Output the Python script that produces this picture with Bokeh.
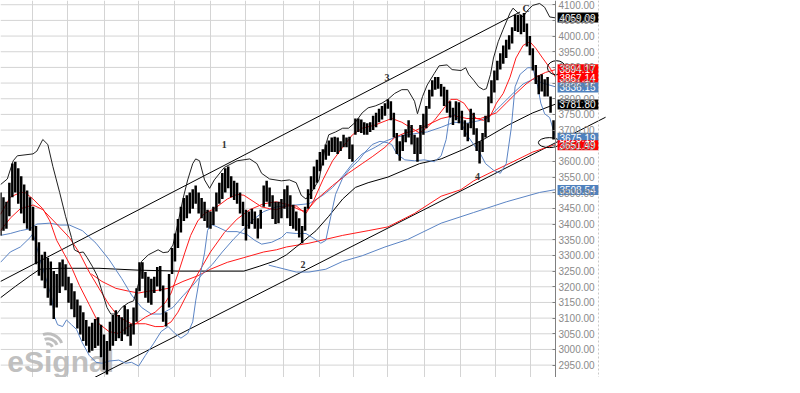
from bokeh.plotting import figure
from bokeh.models import Range1d, FixedTicker, NumeralTickFormatter, Grid, Span
from bokeh.core.properties import value
from bokeh.embed import file_html
from bokeh.resources import INLINE

# ---------------- data (trading-day index, price) ----------------
bar_highs = [3501,3486,3471,3532,3593,3599,3578,3553,3526,3507,
             3486,3455,3394,3342,3302,3312,3293,3281,3250,3241,
             3278,3287,3272,3232,3211,3186,3159,3140,3119,3094,
             3073,3085,3097,3103,3079,3048,3027,3088,3110,3125,
             3110,3103,3140,3128,3082,3134,3195,3278,3278,3247,
             3232,3226,3232,3263,3266,3204,3119,3241,3324,3370,
             3416,3455,3483,3492,3501,3511,3523,3501,3483,3471,
             3446,3440,3455,3501,3532,3563,3578,3584,3553,3538,
             3532,3501,3471,3446,3440,3449,3440,3419,3446,3523,
             3538,3517,3492,3471,3471,3480,3511,3523,3492,3462,
             3440,3419,3394,3455,3511,3553,3584,3605,3630,3639,
             3654,3667,3676,3679,3676,3664,3685,3676,3679,3654,
             3737,3737,3734,3725,3722,3725,3746,3755,3768,3777,
             3786,3798,3792,3755,3691,3664,3685,3703,3731,3716,
             3685,3676,3716,3752,3777,3829,3859,3869,3869,3847,
             3838,3829,3792,3771,3792,3789,3762,3731,3722,3768,
             3755,3706,3664,3691,3746,3807,3859,3890,3921,3945,
             3970,3988,4003,4028,4068,4068,4068,4074,4040,4000,
             3961,3908,3875,3878,3862,3869,3807,3731]
bar_lows = [3364,3379,3385,3425,3486,3501,3465,3434,3403,3385,
            3379,3348,3272,3235,3220,3195,3165,3140,3097,3134,
            3180,3201,3189,3149,3128,3103,3067,3048,3027,3012,
            2990,2996,3005,3012,2975,2935,2920,2996,3012,3027,
            3036,3027,3048,3042,3012,3048,3088,3186,3226,3165,
            3149,3143,3180,3201,3186,3088,3073,3134,3241,3281,
            3324,3373,3410,3419,3434,3449,3465,3434,3419,3410,
            3388,3385,3397,3440,3465,3480,3501,3514,3486,3477,
            3465,3434,3394,3348,3385,3400,3385,3354,3385,3455,
            3471,3455,3416,3400,3403,3419,3449,3419,3394,3385,
            3379,3357,3339,3379,3449,3480,3511,3532,3569,3587,
            3605,3618,3630,3630,3624,3633,3645,3645,3608,3599,
            3685,3694,3691,3685,3685,3694,3700,3709,3725,3734,
            3746,3768,3731,3676,3624,3602,3633,3661,3676,3654,
            3624,3599,3624,3685,3706,3768,3807,3829,3832,3807,
            3777,3755,3740,3716,3731,3722,3700,3679,3664,3706,
            3685,3633,3593,3630,3676,3725,3786,3820,3859,3893,
            3912,3930,3957,3976,4016,4013,4006,4013,3967,3939,
            3890,3847,3814,3823,3807,3807,3755,3670]
bar_days = list(range(len(bar_highs)))

# black upper band
upper_days = [0,2.3,4.3,5.7,11,12.3,14.3,16,17.7,20,22,24,25,26.7,28,29.3,31,32.7,34.3,36,37.3,39.3,41,43.3,45,
              46.7,47.7,50,53.3,55,56.7,58.3,60,61.7,63.3,65,66,67.3,69,70.7,72.3,75.7,80,84.3,86.7,88.3,91,95,
              97.7,100,101.7,103.3,105.7,107.7,110,111,113.3,115.7,117.7,120,122.3,124.3,126.7,129,131,133.3,
              135.7,137.7,140,141,142.7,144.3,146.7,148.3,151,152.7,155.7,157.3,158.3,160,161.7,163.3,164.3,
              165.7,166.7,168.3,170,172.3,173.3,175,176.7,178.3,180,182.3,184,185.7,187.7]
upper_vals = [3526,3544,3602,3618,3624,3633,3670,3654,3584,3501,3425,3357,3318,3309,3311,3293,3266,3235,3186,3134,
              3113,3113,3134,3149,3155,3211,3281,3302,3318,3309,3311,3333,3403,3480,3541,3593,3608,3602,3541,
              3514,3541,3581,3602,3608,3593,3562,3544,3538,3541,3532,3492,3480,3510,3541,3654,3685,3694,3706,
              3706,3725,3755,3771,3777,3786,3798,3817,3829,3829,3792,3752,3807,3844,3881,3905,3908,3893,3890,
              3899,3878,3859,3838,3829,3832,3878,3930,3982,4022,4074,4089,4074,4061,4083,4098,4104,4092,4061,4058]

# blue lower band
lower_days = [0,3.3,6.7,10,11,12.3,13.3,15.7,17.3,18.3,19.3,21,22.3,24,25.7,27.7,30,32.3,34.3,36.7,40,42.3,44.3,
              46.7,49,51.7,54.3,56.7,59,61,63.3,65,66,67.3,69,70,71,73.3,76.7,80,83.3,86,88.3,91.7,95,96.7,100,
              103.3,106,108.3,110,111.7,113.3,115.7,118.3,121,123.3,125.7,128.3,130.7,132.3,134,136.7,140,143.3,
              146.7,149,150.7,151.7,153.3,155.7,157.7,160,162.3,164,166.7,169,171,172.7,174,175.7,178.3,180,
              181.7,182.7,184,185.7,187.7]
lower_vals = [3278,3311,3327,3357,3370,3327,3287,3217,3165,3103,3079,3073,3094,3079,3064,3021,2981,2959,2956,2963,
              2966,2956,2959,2947,2981,3018,3057,3073,3051,3036,3051,3088,3155,3226,3308,3379,3400,3391,3376,
              3376,3367,3348,3336,3342,3357,3373,3370,3370,3354,3339,3348,3425,3495,3547,3578,3602,3630,3654,
              3664,3660,3654,3624,3605,3602,3605,3599,3618,3670,3737,3752,3725,3685,3654,3624,3593,3572,3562,
              3593,3706,3838,3878,3899,3899,3838,3786,3752,3740,3676]

# fast red average
red_fast_days = [0,3.3,6.7,8.3,11,14.3,16.7,19,21.7,24.3,26.7,30,33.3,36.7,40,43.3,45.7,49,52.3,55.7,57.7,60,62.3,
                 64.3,66.7,69,72.3,76.7,80,82.3,85.7,88.3,91,93.3,96.7,100,102.3,103.3,105.7,109,112.3,115.7,119,
                 122.3,126.7,129,132.3,135.7,139,141.7,144,146.7,150,152.3,154.3,156.7,159,161,163.3,165.7,167.7,
                 170,172.3,174.3,176.7,179,181,183.3,185.7,187.7]
red_fast_vals = [3431,3486,3501,3501,3480,3449,3410,3348,3302,3256,3204,3143,3082,3057,3051,3073,3082,3103,3119,
                 3149,3180,3241,3308,3364,3410,3434,3449,3480,3495,3492,3471,3455,3449,3446,3458,3458,3440,3434,
                 3471,3541,3602,3645,3685,3706,3716,3725,3737,3725,3706,3691,3706,3731,3771,3798,3798,3786,3755,
                 3737,3731,3746,3786,3817,3869,3930,3970,3982,3961,3930,3899,3869]

# medium red average
red_mid_days = [0,3.3,6.7,11,14.3,19,23.3,26.7,30,33.3,36.7,40,44.3,49,52.3,55,57.7,60,63.3,66.7,71,75.7,80,84.3,
                89,93.3,97.7,101,103.3,106.7,112.3,117.7,122.3,125.7,130,133.3,136.7,140,144.3,149,153.3,157.7,
                162.3,167.7,171,174.3,177.7,181,184.3,187.7]
red_mid_vals = [3379,3419,3449,3461,3446,3400,3357,3308,3247,3195,3143,3103,3082,3082,3073,3073,3088,3119,3180,
                3241,3311,3373,3416,3446,3465,3471,3461,3446,3440,3477,3523,3563,3593,3615,3645,3676,3691,3697,
                3716,3737,3746,3737,3737,3755,3786,3817,3847,3869,3884,3893]

# medium blue average
blue_mid_days = [0,3.3,6.7,10,12.3,16.7,20,23.3,27.7,32.3,36.7,41,44.3,47.7,51,54.3,58.3,61.7,65,68.3,71.7,75,79,
                 82.3,85.7,89,93.3,100,104.3,109,112.3,115.7,119,122.3,126.7,130,133.3,137.7,141.7,144.3,149,
                 153.3,157.7,162.3,165.7,169,173.3,176.7,180,183.3,187.7]
blue_mid_vals = [3364,3370,3379,3385,3400,3403,3397,3397,3379,3339,3287,3226,3174,3134,3113,3113,3134,3171,3204,
                 3241,3272,3311,3354,3385,3416,3440,3455,3461,3465,3492,3517,3553,3593,3624,3645,3664,3676,3685,
                 3691,3694,3709,3725,3722,3731,3746,3777,3817,3847,3862,3850,3838]

# black average
black_ma_days = [0,5,10,13.3,20,33.3,46.7,60,82.3,87.7,93.3,96.7,100,106.7,111,115.7,120,124.3,131,141.7,149,
                 156.7,163.3,171.7,180,187.7]
black_ma_vals = [3165,3201,3235,3256,3259,3259,3253,3250,3250,3266,3284,3302,3327,3379,3425,3480,3517,3532,3550,
                 3593,3608,3639,3670,3716,3755,3783]

# long red average
red_long_days = [30.7,34.3,39,43.3,46.7,50,53.3,56.7,61.7,66.7,71,76.7,82.3,89,93.3,96.7,104.3,115.7,124.3,131,
                 140,149,155.7,160,166.7,173.3,180,187.7]
red_long_vals = [3241,3217,3195,3186,3180,3186,3189,3195,3217,3235,3256,3278,3293,3311,3318,3327,3339,3364,3379,
                 3391,3434,3489,3510,3538,3569,3599,3630,3654]

# long blue average
blue_long_days = [90.7,93.3,100,104.3,110,115.7,122.3,130,137.7,149,160,171,182.3,187.7]
blue_long_vals = [3269,3263,3247,3247,3256,3281,3299,3327,3351,3403,3437,3471,3501,3510]

# trend channel lines (start/end)
chan_upper_days = [0, 175.7]
chan_upper_vals = [3217, 4077]
chan_lower_days = [31.7, 204.6]
chan_lower_vals = [2910, 3741]

# wave labels
wave_text = ["1", "2", "3", "4", "C"]
wave_days = [75.7, 102.3, 130.7, 161.3, 177.7]
wave_vals = [3654, 3272, 3869, 3553, 4089]

# circled spots
circle_days = [188.0, 185.6]
circle_vals = [3899, 3660]

# last-value tags on the price scale
tag_vals = [4059.09, 3894.17, 3867.14, 3836.15, 3781.80, 3675.19, 3651.49, 3508.54]
tag_colors = ["#000000", "#ff0000", "#ff0000", "#4f81bd", "#000000", "#4f81bd", "#ff0000", "#4f81bd"]
tag_texts = [f"{v:.2f}" for v in tag_vals]

# grid / ticks / scale positions (in trading days)
month_days = [10.7, 22.7, 35, 46.7, 59, 71, 82.7, 95.7, 107.7, 119.3, 131, 143.3, 155.7, 167.3, 179.3]
price_ticks = [2950, 3000, 3050, 3100, 3150, 3200, 3250, 3300, 3350, 3400, 3450, 3500,
               3550, 3600, 3650, 3700, 3750, 3800, 3850, 3900, 3950, 4000, 4050, 4100]
axis_day = 187.67        # where the price scale sits
tag_text_day = 189.0     # tag text start
tag_box_day = 195.3      # tag box centre
scale_edge_day = 202.2   # dotted edge of the price scale

# ---------------- figure ----------------
RED = "#ff1a1a"
BLUE = "#5b84c4"
GRID = "#d4d4d4"

p = figure(frame_width=700, frame_height=377, output_backend="svg", toolbar_location=None,
           x_range=Range1d(0, 236.7), y_range=Range1d(2910.5, 4113.5),
           x_axis_location=None, y_axis_location="right",
           min_border_left=0, min_border_top=0, min_border_bottom=0, min_border_right=0)
p.outline_line_color = None
p.background_fill_color = "white"
p.border_fill_color = "white"

p.xgrid.visible = False
p.ygrid.visible = False
p.add_layout(Grid(dimension=0, ticker=FixedTicker(ticks=month_days),
                  grid_line_color=GRID, grid_line_width=1))
p.segment(x0=[0] * len(price_ticks), y0=price_ticks, x1=[axis_day] * len(price_ticks), y1=price_ticks,
          line_color=GRID, line_width=1)
p.add_layout(Span(location=scale_edge_day, dimension="height", line_color="#c8c8c8",
                  line_dash="2 2", line_width=1))

p.yaxis.fixed_location = axis_day
p.yaxis.ticker = FixedTicker(ticks=price_ticks)
p.yaxis.formatter = NumeralTickFormatter(format="0.00")
p.yaxis.axis_line_color = "#808080"
p.yaxis.major_tick_line_color = "#808080"
p.yaxis.major_tick_in = 3
p.yaxis.major_tick_out = 0
p.yaxis.minor_tick_line_color = None
p.yaxis.major_label_standoff = 3
p.yaxis.major_label_text_color = "#8a8a8a"
p.yaxis.major_label_text_font = "Liberation Sans"
p.yaxis.major_label_text_font_size = "10px"

# watermark
p.text(x=[2.3], y=[2962], text=["eSignal"], text_font=value("Liberation Sans"),
       text_font_style="bold", text_font_size="30px", text_color="#b8b8b8",
       text_alpha=0.9, text_baseline="alphabetic", text_align="left")
p.arc(x=[16, 16, 16], y=[3002, 3002, 3002], radius=[5, 10, 15], radius_units="screen",
      start_angle=0.4, end_angle=1.9, line_color="#b8b8b8", line_width=3, line_alpha=0.9)

# channel lines
p.line(chan_upper_days, chan_upper_vals, line_color="black", line_width=1)
p.line(chan_lower_days, chan_lower_vals, line_color="black", line_width=1)

# averages and bands
p.line(blue_long_days, blue_long_vals, line_color=BLUE, line_width=1)
p.line(red_long_days, red_long_vals, line_color=RED, line_width=1)
p.line(black_ma_days, black_ma_vals, line_color="black", line_width=1)
p.line(blue_mid_days, blue_mid_vals, line_color=BLUE, line_width=1)
p.line(red_mid_days, red_mid_vals, line_color=RED, line_width=1)
p.line(red_fast_days, red_fast_vals, line_color=RED, line_width=1)
p.line(lower_days, lower_vals, line_color=BLUE, line_width=1)
p.line(upper_days, upper_vals, line_color="#202020", line_width=1)

# price bars
p.segment(x0=bar_days, y0=bar_lows, x1=bar_days, y1=bar_highs, line_color="black", line_width=2.5)

# annotations
p.text(x=wave_days, y=wave_vals, text=wave_text, text_font=value("Liberation Serif"),
       text_font_style="bold", text_font_size="10px", text_color="#333333",
       text_align="center", text_baseline="middle")
p.ellipse(x=circle_days, y=circle_vals, width=[18, 22], height=[14, 10],
          width_units="screen", height_units="screen", fill_color=None,
          line_color="black", line_width=1)

# last-value tags
p.rect(x=[tag_box_day] * len(tag_vals), y=tag_vals, width=41, height=10,
       width_units="screen", height_units="screen", fill_color=tag_colors, line_color=None)
p.text(x=[tag_text_day] * len(tag_vals), y=tag_vals, text=tag_texts, text_color="white",
       text_font=value("Liberation Sans"), text_font_size="10px",
       text_baseline="middle", text_align="left")

open("out.html", "w").write(file_html(p, INLINE))
